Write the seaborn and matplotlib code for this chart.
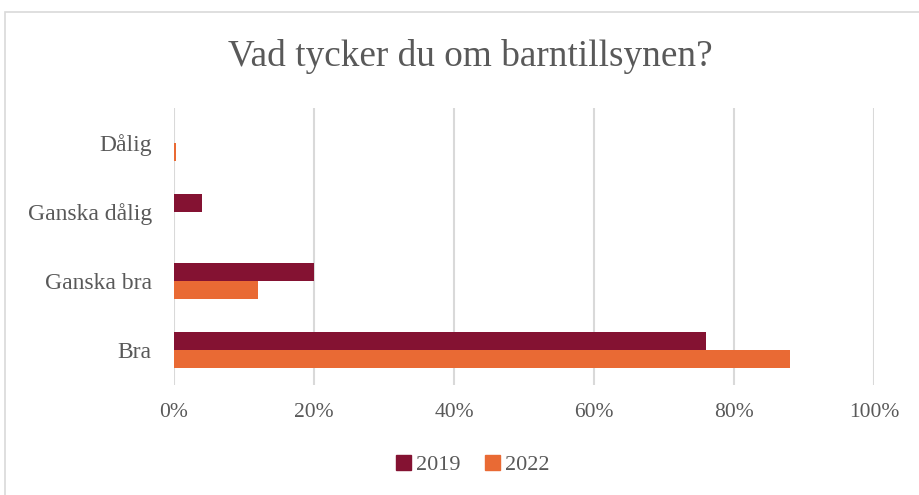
import matplotlib
matplotlib.use("Agg")
import matplotlib.pyplot as plt
import matplotlib.patches as mpatches
from matplotlib.ticker import PercentFormatter
import pandas as pd
import seaborn as sns

CATEGORIES = ["Dålig", "Ganska dålig", "Ganska bra", "Bra"]
YEARS = ["2019", "2022"]
VALUES_2019 = [0.0, 4.0, 20.0, 76.0]
VALUES_2022 = [0.3, 0.0, 12.0, 88.0]
X_TICKS = [0, 20, 40, 60, 80, 100]

COLORS = {"2019": "#841232", "2022": "#E96A34"}
TEXT = "#595959"

df = pd.DataFrame({
    "svar": CATEGORIES * 2,
    "år": ["2019"] * 4 + ["2022"] * 4,
    "andel": VALUES_2019 + VALUES_2022,
})

sns.set_theme(style="white")
plt.rcParams["font.family"] = ["Liberation Serif", "DejaVu Serif"]

fig = plt.figure(figsize=(9.2, 4.95), dpi=100)
ax = fig.add_axes([174 / 920, 110 / 495, 700 / 920, 277 / 495])

sns.barplot(data=df, x="andel", y="svar", hue="år", order=CATEGORIES,
            hue_order=YEARS, palette=COLORS, width=0.52, ax=ax,
            saturation=1, linewidth=0, zorder=3)

ax.set_xlim(0, 100)
ax.set_ylim(3.5, -0.5)
ax.set_xticks(X_TICKS)
ax.xaxis.set_major_formatter(PercentFormatter(decimals=0))
ax.grid(axis="x", color="#D9D9D9", linewidth=1.5, zorder=0)
ax.set_xlabel("")
ax.set_ylabel("")
for s in ax.spines.values():
    s.set_visible(False)
ax.tick_params(axis="x", length=0, pad=13, labelsize=15.5, labelcolor=TEXT)
ax.tick_params(axis="y", length=0, pad=16, labelsize=17, labelcolor=TEXT)

ax.legend_.remove()
handles = [mpatches.Patch(color=COLORS[y], label=y) for y in YEARS]
fig.legend(handles=handles, loc="center", bbox_to_anchor=(473 / 920, 1 - 465 / 495),
           ncol=2, frameon=False, handlelength=0.65, handleheight=0.65,
           handletextpad=0.25, columnspacing=1.1,
           prop={"size": 16}, labelcolor=TEXT)

fig.text(470 / 920, 1 - 56 / 495, "Vad tycker du om barntillsynen?",
         ha="center", va="center", fontsize=26.8, color=TEXT)

# chart border
fig.patches.append(mpatches.Rectangle((5 / 920, -0.05), 1.0, 1 - 12 / 495 + 0.05,
                                      transform=fig.transFigure, fill=False,
                                      edgecolor="#D9D9D9", linewidth=1.2))

fig.savefig("out.png", dpi=100)
